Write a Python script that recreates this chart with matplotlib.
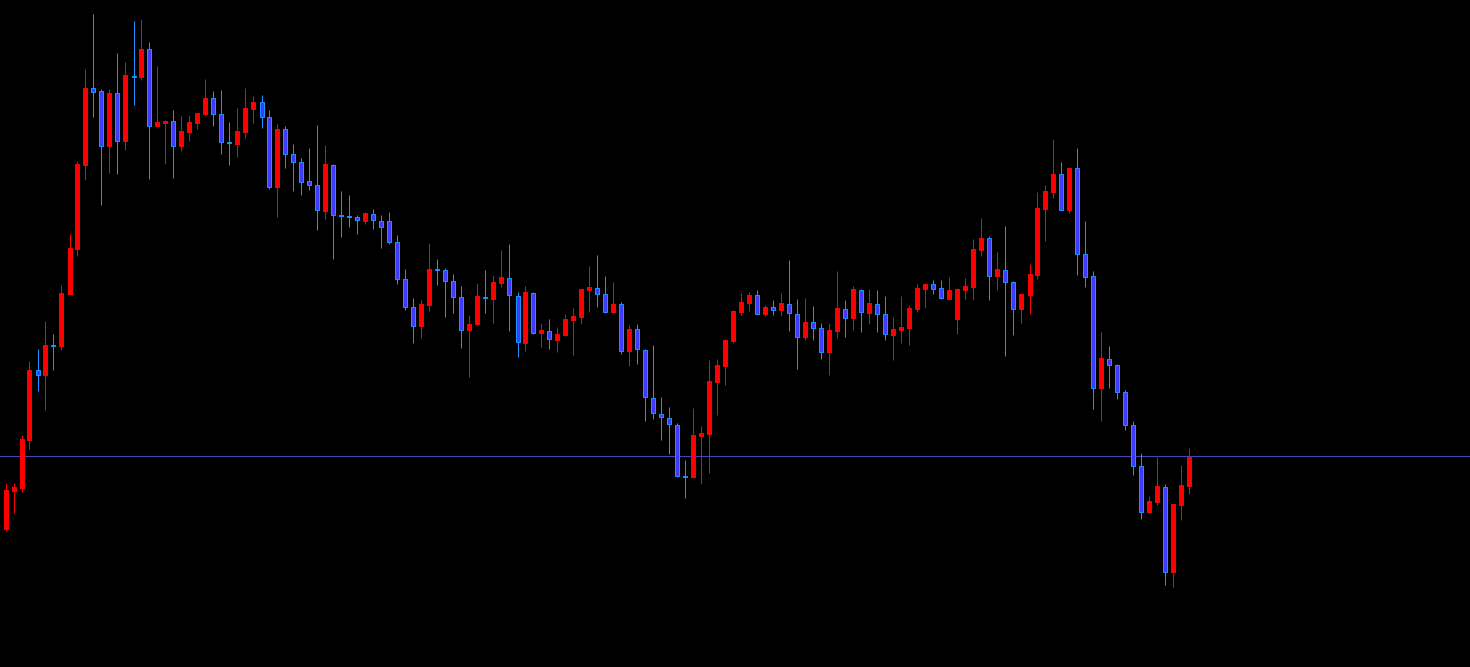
import matplotlib
matplotlib.use("Agg")
import matplotlib.pyplot as plt
import numpy as np

# Candle data (chart price units; larger value = lower on the chart)
opens = [529, 490.5, 488, 440, 370, 375, 345, 346, 294, 248.5,
         165, 88, 91, 145.5, 93, 140.5, 75.5, 77, 49, 125.5,
         122.5, 121, 145.5, 131.5, 122.5, 113.5, 98, 114, 142, 143.5,
         131.5, 109, 102, 116.5, 186.5, 129, 154, 161.5, 181, 184.5,
         210.5, 164.5, 214.5, 215.5, 216.5, 220.5, 213.5, 220.5, 220.5, 241.5,
         278.5, 306.5, 325.5, 304.5, 269, 269.5, 280.5, 296.5, 329.5, 324,
         296.5, 298.5, 282.5, 277.5, 295.5, 342.5, 292.5, 332.5, 330.5, 339.5,
         335, 320, 317, 289.5, 287.5, 293.5, 311.5, 303.5, 350.5, 328.5,
         349.5, 397.5, 413.5, 417.5, 424.5, 475.5, 476.5, 435.5, 433.5, 381.5,
         365.5, 341, 311.5, 302.5, 295, 313.5, 307, 309.5, 303.5, 313.5,
         336.5, 322, 327.5, 351.5, 330.5, 308.5, 317.5, 289.5, 312.5, 303.5,
         314, 334.5, 329.5, 327.5, 308.5, 288.5, 284, 288, 298.5, 318.5,
         289.5, 286.5, 249.5, 238, 275.5, 269.5, 281.5, 308.5, 294.5, 274.5,
         208.5, 191.5, 174, 209.5, 168, 253.5, 276, 387.5, 358.5, 364.5,
         391.5, 424.5, 465.5, 511.5, 501.5, 486.5, 571.5, 504.5, 485.5]
highs = [483, 483, 435, 361, 349, 321, 334, 285, 234, 161,
         69, 14, 89, 89, 53, 62, 21, 19, 42, 66,
         120, 110, 116, 115, 113, 79, 91, 90, 122, 108,
         88, 96, 95, 110, 124, 126, 144, 158, 148, 125,
         145, 164, 191, 195, 215, 212, 209, 215, 212, 235,
         269, 298, 300, 243, 259, 268, 274, 286, 315, 283,
         270, 275, 250, 244, 292, 286, 292, 323, 319, 327,
         314, 308, 289, 266, 255, 276, 282, 302, 325, 324,
         349, 345, 397, 407, 423, 460, 408, 426, 360, 359,
         339, 310, 293, 292, 290, 305, 300, 293, 260, 299,
         298, 306, 323, 323, 271, 300, 286, 289, 289, 290,
         296, 317, 296, 305, 284, 283, 280, 280, 277, 288,
         278, 239, 218, 236, 252, 226, 281, 294, 264, 192,
         185, 139, 162, 168, 148, 221, 271, 332, 346, 364,
         390, 421, 453, 496, 457, 484, 504, 465, 448]
lows = [531, 513, 492, 449, 391, 410, 370, 350, 294, 256,
        180, 117, 205, 173, 174, 150, 105, 80, 179, 126,
        164, 178, 151, 141, 129, 115, 126, 154, 165, 157,
        138, 123, 128, 189, 217, 168, 191, 195, 190, 230,
        219, 259, 237, 227, 234, 224, 229, 248, 244, 284,
        310, 343, 338, 311, 285, 317, 313, 348, 377, 325,
        313, 323, 287, 331, 357, 351, 334, 347, 349, 352,
        336, 355, 324, 312, 307, 313, 313, 354, 366, 364,
        421, 419, 440, 454, 477, 498, 477, 484, 473, 415,
        385, 343, 315, 311, 314, 316, 315, 316, 331, 369,
        340, 340, 359, 375, 338, 337, 330, 332, 324, 332,
        340, 360, 343, 345, 312, 308, 294, 299, 299, 334,
        299, 300, 256, 300, 290, 356, 335, 323, 314, 279,
        241, 198, 210, 213, 275, 287, 409, 421, 388, 399,
        430, 475, 519, 513, 505, 585, 587, 520, 494]
closes = [490, 487, 439, 369.5, 374.5, 345, 346, 293, 248, 164,
          88, 91.5, 145.5, 93, 140.5, 75, 76.5, 49, 125.5, 122,
          121, 145.5, 131, 122, 113, 98, 114, 142, 143, 131,
          108, 102, 116.5, 186.5, 129, 154, 161.5, 181.5, 184.5, 210,
          164, 214.5, 215.5, 216.5, 220, 213, 220, 226.5, 241.5, 278.5,
          306.5, 325.5, 304, 269, 270, 280.5, 296.5, 329.5, 323.5, 296,
          298, 282, 277, 295, 342, 292, 332.5, 330, 339, 334,
          319, 316, 289, 287, 293.5, 311.5, 303.5, 350.5, 328.5, 349,
          397, 413, 417, 424, 475.5, 476.5, 435, 433, 381, 365,
          340, 311, 302, 295, 313.5, 307, 309.5, 303, 313, 336.5,
          322, 327.5, 351.5, 330, 308, 317.5, 289, 312, 303, 314,
          334, 329, 327, 308, 288, 284, 288.5, 298, 290, 289,
          286, 249, 238, 275.5, 269, 281.5, 308.5, 294, 274, 208,
          191, 174, 209.5, 168, 253.5, 276.5, 387.5, 358, 364.5, 391.5,
          424.5, 465.5, 511.5, 501, 486, 571.5, 504, 485, 456.5]
level_line = 456.3

UP_COLOR = "#ff0000"
DOWN_FILL = "#3c3cff"
DOWN_EDGE = "#1e90ff"

o = np.array(opens, float)
h = np.array(highs, float)
l = np.array(lows, float)
c = np.array(closes, float)
x = np.arange(len(o))
up = c < o  # inverted price axis: smaller number = higher price

fig = plt.figure(figsize=(14.7, 6.67), dpi=100)
fig.patch.set_facecolor("black")
ax = fig.add_axes([0, 0, 1, 1])
ax.set_facecolor("black")

px = 1.0 / 8.0  # one pixel in x data units
wick_lw = 0.72

# wicks
ax.vlines(x[up], l[up], h[up], color=UP_COLOR, linewidth=wick_lw, zorder=1)
ax.vlines(x[~up], l[~up], h[~up], color=DOWN_EDGE, linewidth=wick_lw, zorder=1)

# bodies
top = np.minimum(o, c)
height = np.maximum(np.abs(o - c), 1.0)
ax.bar(x[up], height[up], bottom=top[up], width=4 * px, color=UP_COLOR,
       edgecolor=UP_COLOR, linewidth=0.72, zorder=2)
ax.bar(x[~up], height[~up], bottom=top[~up], width=4 * px, color=DOWN_FILL,
       edgecolor=DOWN_EDGE, linewidth=0.72, zorder=2)

ax.axhline(level_line, color="#4646b4", linewidth=0.8, zorder=0)

xmin = -5.5 / 8.0
ax.set_xlim(xmin, xmin + 1470 / 8.0)
ax.set_ylim(667, 0)
ax.axis("off")

fig.savefig("out.png", dpi=100, facecolor="black")
